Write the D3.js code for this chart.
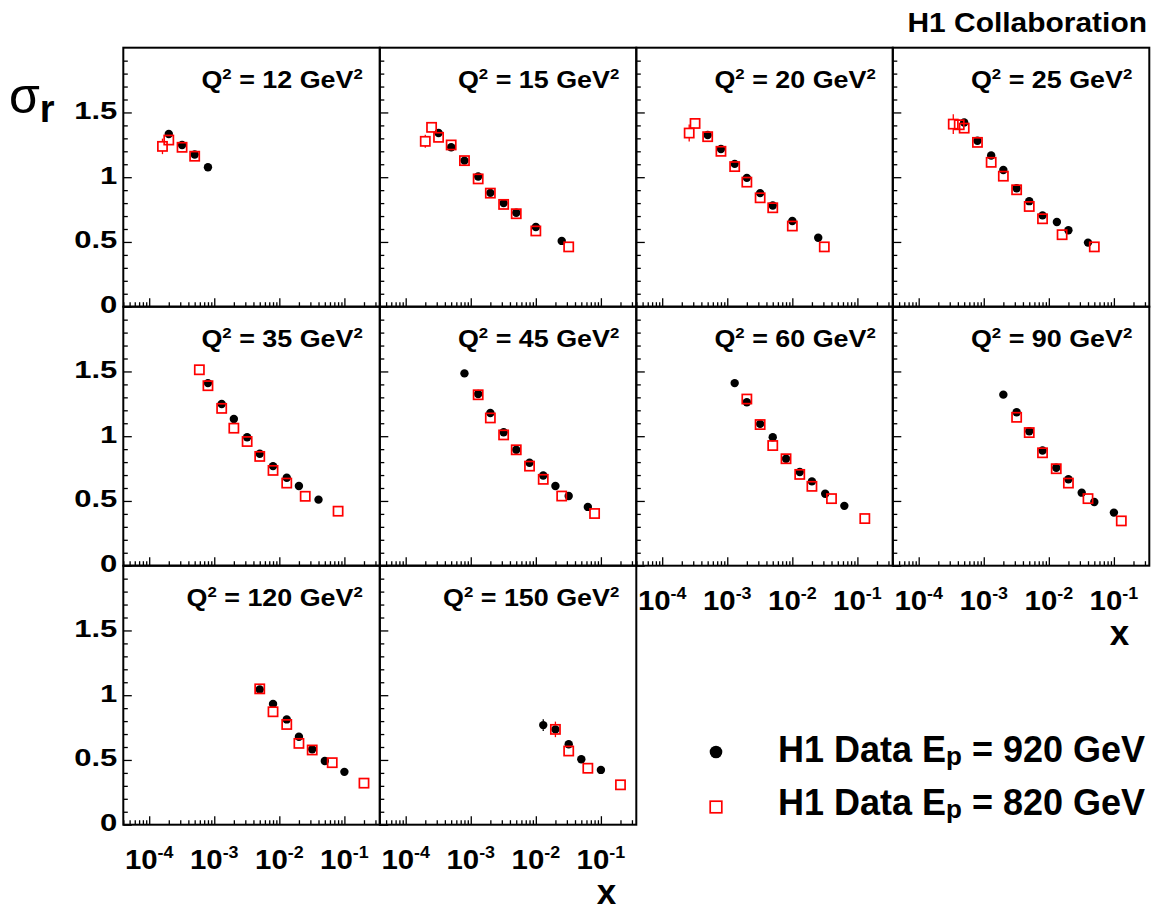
<!DOCTYPE html>
<html><head><meta charset="utf-8">
<script src="https://cdn.jsdelivr.net/npm/d3@7"></script>
<style>
body{margin:0;background:#fff}
svg{display:block}
text{font-family:"Liberation Sans",Arial,Helvetica,sans-serif;font-weight:bold;fill:#000}
</style>
</head><body>
<svg id="c" width="1158" height="911"></svg>
<script>
// ---------------- data ----------------
const q2Values = [12, 15, 20, 25, 35, 45, 60, 90, 120, 150];

// H1 data Ep = 920 GeV (filled circles), one list per Q2 bin
const x920 = [
  [2.0e-4, 3.2e-4, 5.0e-4, 8.0e-4],
  [3.2e-4, 5e-4, 8e-4, 1.3e-3, 2e-3, 3.2e-3, 5e-3, 0.01, 0.025],
  [5e-4, 8e-4, 1.3e-3, 2e-3, 3.2e-3, 5e-3, 0.01, 0.025],
  [5e-4, 8e-4, 1.3e-3, 2e-3, 3.2e-3, 5e-3, 8e-3, 0.0133, 0.02, 0.04],
  [8e-4, 1.3e-3, 2e-3, 3.2e-3, 5e-3, 8e-3, 0.013, 0.02, 0.04],
  [8e-4, 1.3e-3, 2e-3, 3.2e-3, 5e-3, 8e-3, 0.013, 0.02, 0.032, 0.063],
  [1.3e-3, 2e-3, 3.2e-3, 5e-3, 8e-3, 0.013, 0.02, 0.032, 0.063],
  [2e-3, 3.2e-3, 5e-3, 8e-3, 0.013, 0.02, 0.032, 0.05, 0.1],
  [5e-3, 8e-3, 0.013, 0.02, 0.032, 0.05, 0.1],
  [0.013, 0.02, 0.032, 0.05, 0.1]
];
const y920 = [
  [1.334, 1.249, 1.175, 1.077],
  [1.341, 1.231, 1.128, 1.005, 0.879, 0.800, 0.726, 0.615, 0.508],
  [1.326, 1.218, 1.103, 0.995, 0.877, 0.782, 0.662, 0.533],
  [1.423, 1.282, 1.167, 1.056, 0.915, 0.815, 0.705, 0.654, 0.590, 0.495],
  [1.410, 1.249, 1.133, 0.992, 0.864, 0.769, 0.679, 0.615, 0.510],
  [1.485, 1.326, 1.179, 1.031, 0.895, 0.795, 0.697, 0.615, 0.538, 0.454],
  [1.410, 1.262, 1.095, 0.992, 0.826, 0.723, 0.651, 0.556, 0.462],
  [1.321, 1.185, 1.038, 0.890, 0.756, 0.667, 0.564, 0.492, 0.410],
  [1.044, 0.933, 0.813, 0.679, 0.582, 0.492, 0.408],
  [0.769, 0.736, 0.621, 0.505, 0.423]
];
const e920 = [
  [0.03, 0.02, 0.02, 0.015],
  [0.03, 0.02, 0.02, 0.02, 0.02, 0.02, 0.02, 0.02, 0.015],
  [0.03, 0.02, 0.02, 0.02, 0.02, 0.02, 0.02, 0.015],
  [0.03, 0.02, 0.02, 0.02, 0.02, 0.02, 0.02, 0.015, 0.015, 0.015],
  [0.03, 0.02, 0.02, 0.02, 0.02, 0.02, 0.02, 0.015, 0.015],
  [0.03, 0.02, 0.02, 0.02, 0.02, 0.02, 0.02, 0.015, 0.015, 0.015],
  [0.03, 0.02, 0.02, 0.02, 0.02, 0.02, 0.02, 0.015, 0.015],
  [0.03, 0.02, 0.02, 0.02, 0.02, 0.02, 0.02, 0.015, 0.015],
  [0.03, 0.02, 0.02, 0.02, 0.02, 0.015, 0.015],
  [0.045, 0.03, 0.02, 0.015, 0.015]
];

// H1 data Ep = 820 GeV (open squares)
const x820 = [
  [1.6e-4, 2.0e-4, 3.2e-4, 5.0e-4],
  [2.0e-4, 2.5e-4, 3.2e-4, 5e-4, 8e-4, 1.3e-3, 2e-3, 3.2e-3, 5e-3, 0.01, 0.032],
  [2.6e-4, 3.2e-4, 5e-4, 8e-4, 1.3e-3, 2e-3, 3.2e-3, 5e-3, 0.01, 0.031],
  [3.4e-4, 4.2e-4, 5e-4, 8e-4, 1.3e-3, 2e-3, 3.2e-3, 5e-3, 8e-3, 0.016, 0.05],
  [5.9e-4, 8e-4, 1.3e-3, 2e-3, 3.2e-3, 5e-3, 8e-3, 0.013, 0.025, 0.08],
  [1.3e-3, 2e-3, 3.2e-3, 5e-3, 8e-3, 0.013, 0.025, 0.08],
  [2e-3, 3.2e-3, 5e-3, 8e-3, 0.013, 0.02, 0.04, 0.13],
  [3.2e-3, 5e-3, 8e-3, 0.013, 0.02, 0.04, 0.13],
  [5e-3, 8e-3, 0.013, 0.02, 0.032, 0.065, 0.2],
  [0.02, 0.032, 0.063, 0.2]
];
const y820 = [
  [1.238, 1.287, 1.231, 1.162],
  [1.277, 1.385, 1.308, 1.249, 1.128, 0.987, 0.877, 0.790, 0.718, 0.585, 0.462],
  [1.341, 1.415, 1.313, 1.200, 1.082, 0.962, 0.841, 0.764, 0.623, 0.462],
  [1.410, 1.405, 1.379, 1.269, 1.115, 1.008, 0.903, 0.774, 0.679, 0.556, 0.462],
  [1.513, 1.390, 1.215, 1.062, 0.959, 0.844, 0.736, 0.638, 0.536, 0.421],
  [1.320, 1.141, 1.010, 0.895, 0.769, 0.667, 0.538, 0.403],
  [1.287, 1.090, 0.928, 0.826, 0.705, 0.613, 0.518, 0.364],
  [1.146, 1.028, 0.872, 0.749, 0.638, 0.518, 0.346],
  [1.049, 0.872, 0.774, 0.628, 0.577, 0.479, 0.321],
  [0.736, 0.569, 0.436, 0.308]
];
const e820 = [
  [0.06, 0.03, 0.02, 0.02],
  [0.05, 0.035, 0.03, 0.02, 0.02, 0.02, 0.02, 0.02, 0.02, 0.02, 0.015],
  [0.065, 0.03, 0.02, 0.02, 0.02, 0.02, 0.02, 0.02, 0.02, 0.015],
  [0.077, 0.04, 0.03, 0.02, 0.02, 0.02, 0.02, 0.02, 0.02, 0.015, 0.015],
  [0.03, 0.02, 0.02, 0.02, 0.02, 0.02, 0.02, 0.02, 0.015, 0.015],
  [0.02, 0.02, 0.02, 0.02, 0.02, 0.02, 0.015, 0.015],
  [0.02, 0.02, 0.02, 0.02, 0.02, 0.02, 0.015, 0.015],
  [0.02, 0.02, 0.02, 0.02, 0.02, 0.015, 0.015],
  [0.02, 0.02, 0.02, 0.02, 0.02, 0.015, 0.015],
  [0.06, 0.03, 0.02, 0.015]
];

const yTickValues = [0, 0.5, 1, 1.5];
const yTickLabels = ["0", "0.5", "1", "1.5"];
const xTickExponents = [-4, -3, -2, -1];
const xTickLabels = ["-4", "-3", "-2", "-1"];
const legendLabels = ["920", "820"];

// ---------------- layout ----------------
const svg = d3.select("#c");
const colLeft = [123.3, 379.8, 636.3, 892.8];
const rowTop = [47.7, 306.7, 565.7];
const PW = 256.5, PH = 259;
const RED = "#ff0000";

const x = d3.scaleLog().domain([4e-5, 0.35]).range([0, PW]);
const y = d3.scaleLinear().domain([0, 2]).range([PH, 0]);

const minorX = [], majorX = [];
for (let k = -5; k <= 0; k++) for (let m = 1; m <= 9; m++) {
  const v = m * Math.pow(10, k);
  if (v >= 4e-5 && v <= 0.35) (m === 1 ? majorX : minorX).push(v);
}
const minorY = d3.range(0, 20).map(i => i / 10).filter(v => v % 0.5 > 1e-9 && 0.5 - v % 0.5 > 1e-9);
const majorY = [0, 0.5, 1, 1.5];

// header
svg.append("text").attr("transform", "translate(1147,31.5) scale(1.07,1)")
  .attr("text-anchor", "end").style("font-size", "28px").text("H1 Collaboration");

// y title sigma_r
const yt = svg.append("text").attr("x", 9).attr("y", 113);
yt.append("tspan").style("font-weight", "normal").style("font-size", "50px").text("σ");
yt.append("tspan").attr("dy", 9).style("font-size", "38px").text("r");

q2Values.forEach((q2, i) => {
  const col = i % 4, row = Math.floor(i / 4);
  const g = svg.append("g").attr("transform", `translate(${colLeft[col]},${rowTop[row]})`);

  // ticks
  g.append("g").attr("transform", `translate(0,${PH})`)
    .call(d3.axisBottom(x).tickValues(minorX).tickSize(-4.5).tickFormat(""));
  g.append("g").attr("transform", `translate(0,${PH})`)
    .call(d3.axisBottom(x).tickValues(majorX).tickSize(-8.5).tickFormat(""));
  g.append("g").call(d3.axisLeft(y).tickValues(minorY).tickSize(-4.5).tickFormat(""));
  g.append("g").call(d3.axisLeft(y).tickValues(majorY).tickSize(-8.5).tickFormat(""));
  g.selectAll(".domain").remove();
  g.selectAll(".tick line").attr("stroke", "#000").attr("stroke-width", 1.3);

  // frame
  g.append("rect").attr("x", 0).attr("y", 0).attr("width", PW).attr("height", PH)
    .attr("fill", "none").attr("stroke", "#000").attr("stroke-width", 2);

  // Q2 label
  const t = g.append("text").attr("transform", `translate(${PW - 17},${40}) scale(1.12,1)`)
    .attr("text-anchor", "end").style("font-size", "24px");
  t.append("tspan").text("Q");
  t.append("tspan").attr("dy", -8.5).style("font-size", "15px").text("2");
  t.append("tspan").attr("dy", 8.5).text(` = ${q2} GeV`);
  t.append("tspan").attr("dy", -8.5).style("font-size", "15px").text("2");

  // y tick labels (first column)
  if (col === 0) {
    yTickValues.forEach((v, j) => {
      g.append("text").attr("transform", `translate(-6,${y(v) + 6.5}) scale(1.35,1)`)
        .attr("text-anchor", "end").style("font-size", "23px").text(yTickLabels[j]);
    });
  }
  // x tick labels (bottom panel of each column)
  const bottomOfCol = (col <= 1 && row === 2) || (col >= 2 && row === 1);
  if (bottomOfCol) {
    xTickExponents.forEach((k, j) => {
      const tx = g.append("text").attr("transform", `translate(${x(Math.pow(10, k))},${PH + 44}) scale(1.05,1)`)
        .attr("text-anchor", "middle").style("font-size", "28px");
      tx.append("tspan").text("10");
      tx.append("tspan").attr("dy", -11).style("font-size", "17px").text(xTickLabels[j]);
    });
    if (col === 1 || col === 3) {
      g.append("text").attr("x", PW - 20).attr("y", PH + 79)
        .attr("text-anchor", "end").style("font-size", "35px").text("x");
    }
  }

  // data
  const d920 = x920[i].map((xv, j) => ({x: xv, y: y920[i][j], e: e920[i][j]}));
  const d820 = x820[i].map((xv, j) => ({x: xv, y: y820[i][j], e: e820[i][j]}));

  const R = 4.2, S = 4.6;
  function errBars(data, half, color) {
    data.forEach(d => {
      const cx = x(d.x), cy = y(d.y), up = y(d.y + d.e), dn = y(d.y - d.e);
      if (cy - up > half) g.append("line").attr("x1", cx).attr("x2", cx).attr("y1", up).attr("y2", cy - half)
        .attr("stroke", color).attr("stroke-width", 1.3);
      if (dn - cy > half) g.append("line").attr("x1", cx).attr("x2", cx).attr("y1", cy + half).attr("y2", dn)
        .attr("stroke", color).attr("stroke-width", 1.3);
    });
  }
  errBars(d920, R, "#000");
  g.selectAll(null).data(d920).enter().append("circle")
    .attr("cx", d => x(d.x)).attr("cy", d => y(d.y)).attr("r", R).attr("fill", "#000");
  errBars(d820, S, RED);
  g.selectAll(null).data(d820).enter().append("rect")
    .attr("x", d => x(d.x) - S).attr("y", d => y(d.y) - S)
    .attr("width", 2 * S).attr("height", 2 * S)
    .attr("fill", "none").attr("stroke", RED).attr("stroke-width", 1.7);
});

// legend
const lg = svg.append("g");
lg.append("circle").attr("cx", 716).attr("cy", 752).attr("r", 6.3).attr("fill", "#000");
lg.append("rect").attr("x", 716 - 5.8).attr("y", 807 - 5.8).attr("width", 11.6).attr("height", 11.6)
  .attr("fill", "none").attr("stroke", RED).attr("stroke-width", 1.7);
legendLabels.forEach((lab, j) => {
  const t = lg.append("text").attr("x", 778).attr("y", j === 0 ? 761.7 : 815).style("font-size", "36px");
  t.append("tspan").text("H1 Data E");
  t.append("tspan").attr("dy", 3).style("font-size", "26px").text("p");
  t.append("tspan").attr("dy", -3).text(` = ${lab} GeV`);
});
</script>
</body></html>
